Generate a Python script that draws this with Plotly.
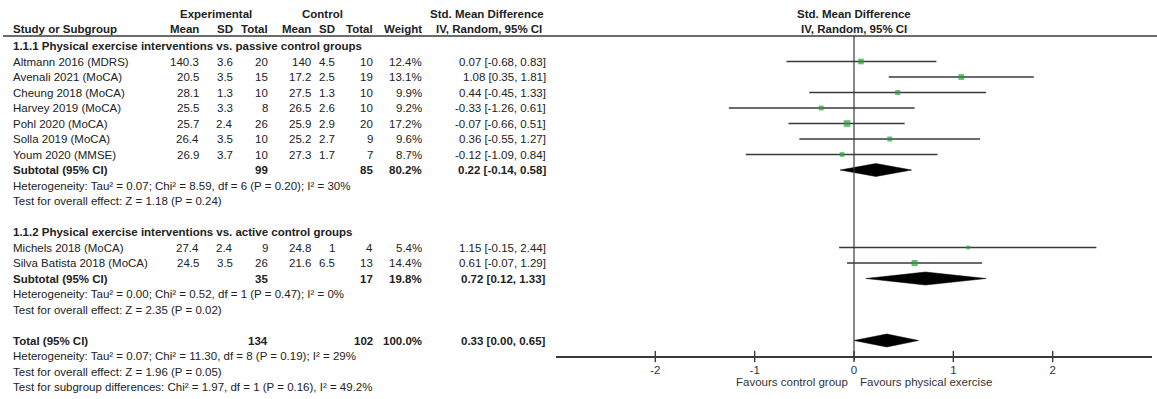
import plotly.graph_objects as go

# ---- study-level data -------------------------------------------------------
study = ["Altmann 2016 (MDRS)", "Avenali 2021 (MoCA)", "Cheung 2018 (MoCA)",
         "Harvey 2019 (MoCA)", "Pohl 2020 (MoCA)", "Solla 2019 (MoCA)",
         "Youm 2020 (MMSE)", "Michels 2018 (MoCA)", "Silva Batista 2018 (MoCA)"]
group = [1, 1, 1, 1, 1, 1, 1, 2, 2]
exp_mean = [140.3, 20.5, 28.1, 25.5, 25.7, 26.4, 26.9, 27.4, 24.5]
exp_sd = [3.6, 3.5, 1.3, 3.3, 2.4, 3.5, 3.7, 2.4, 3.5]
exp_n = [20, 15, 10, 8, 26, 10, 10, 9, 26]
ctl_mean = [140, 17.2, 27.5, 26.5, 25.9, 25.2, 27.3, 24.8, 21.6]
ctl_sd = [4.5, 2.5, 1.3, 2.6, 2.9, 2.7, 1.7, 1, 6.5]
ctl_n = [10, 19, 10, 10, 20, 9, 7, 4, 13]
weight = [12.4, 13.1, 9.9, 9.2, 17.2, 9.6, 8.7, 5.4, 14.4]
smd = [0.07, 1.08, 0.44, -0.33, -0.07, 0.36, -0.12, 1.15, 0.61]
ci_lo = [-0.68, 0.35, -0.45, -1.26, -0.66, -0.55, -1.09, -0.15, -0.07]
ci_hi = [0.83, 1.81, 1.33, 0.61, 0.51, 1.27, 0.84, 2.44, 1.29]

# ---- subgroup pooled results --------------------------------------------------
group_titles = ["1.1.1 Physical exercise interventions vs. passive control groups",
                "1.1.2 Physical exercise interventions vs. active control groups"]
sub_exp_n = [99, 35]
sub_ctl_n = [85, 17]
sub_weight = [80.2, 19.8]
sub_smd = [0.22, 0.72]
sub_lo = [-0.14, 0.12]
sub_hi = [0.58, 1.33]
sub_het = ["Heterogeneity: Tau\u00b2 = 0.07; Chi\u00b2 = 8.59, df = 6 (P = 0.20); I\u00b2 = 30%",
           "Heterogeneity: Tau\u00b2 = 0.00; Chi\u00b2 = 0.52, df = 1 (P = 0.47); I\u00b2 = 0%"]
sub_test = ["Test for overall effect: Z = 1.18 (P = 0.24)",
            "Test for overall effect: Z = 2.35 (P = 0.02)"]

# ---- overall pooled result ----------------------------------------------------
tot_exp_n, tot_ctl_n, tot_weight = 134, 102, 100.0
tot_smd, tot_lo, tot_hi = 0.33, 0.00, 0.65
tot_notes = ["Heterogeneity: Tau\u00b2 = 0.07; Chi\u00b2 = 11.30, df = 8 (P = 0.19); I\u00b2 = 29%",
             "Test for overall effect: Z = 1.96 (P = 0.05)",
             "Test for subgroup differences: Chi\u00b2 = 1.97, df = 1 (P = 0.16), I\u00b2 = 49.2%"]

axis_ticks = [-2, -1, 0, 1, 2]
favours_left = "Favours control group"
favours_right = "Favours physical exercise"

# ---- layout constants (pixels) -------------------------------------------------
W, H = 1157, 399
ROW0, STEP = 61.5, 15.5          # first study row, row pitch
HEAD1_Y, HEAD2_Y, RULE_Y = 14, 29, 36
AXIS_Y = 357
FONT = "Liberation Sans, Arial, sans-serif"
FS = 11.5
TXT = "#222222"
LINE = "#3a3a3a"
GREEN = "#25a03a"
COL_LEFT = 13
COL_R = dict(em=199, esd=233, en=268, cm=311, csd=335, cn=373, w=422, ci=546)
DIAMOND_H = 6.5


def row_y(i):
    return ROW0 + STEP * i


def fmt_ci(e, lo, hi):
    return f"{e:.2f} [{lo:.2f}, {hi:.2f}]"


annotations = []


def put(text, x, y, anchor="right", bold=False, color=TXT):
    annotations.append(dict(
        text=f"<b>{text}</b>" if bold else text,
        x=x / W, xref="paper", y=y, yref="y",
        xanchor=anchor, yanchor="middle", showarrow=False,
        borderpad=0, borderwidth=0,
        font=dict(family=FONT, size=FS, color=color)))


# column headers
put("Experimental", 216, HEAD1_Y, "center", True)
put("Control", 322, HEAD1_Y, "center", True)
put("Std. Mean Difference", 487, HEAD1_Y, "center", True)
put("Study or Subgroup", COL_LEFT, HEAD2_Y, "left", True)
for key, lab in [("em", "Mean"), ("esd", "SD"), ("en", "Total"), ("cm", "Mean"),
                 ("csd", "SD"), ("cn", "Total"), ("w", "Weight")]:
    put(lab, COL_R[key], HEAD2_Y, "right", True)
put("IV, Random, 95% CI", 489, HEAD2_Y, "center", True)

fig = go.Figure()

# assign rows: group 1 starts at row 0, group 2 after a blank line
study_rows = []
group_start = {1: 0, 2: 12}
idx_in_group = {1: 0, 2: 0}
for g in group:
    study_rows.append(group_start[g] + idx_in_group[g])
    idx_in_group[g] += 1

# study rows: table cells
for i, r in enumerate(study_rows):
    y = row_y(r)
    put(study[i], COL_LEFT, y, "left")
    put(f"{exp_mean[i]:g}", COL_R["em"], y)
    put(f"{exp_sd[i]:g}", COL_R["esd"], y)
    put(f"{exp_n[i]}", COL_R["en"], y)
    put(f"{ctl_mean[i]:g}", COL_R["cm"], y)
    put(f"{ctl_sd[i]:g}", COL_R["csd"], y)
    put(f"{ctl_n[i]}", COL_R["cn"], y)
    put(f"{weight[i]:.1f}%", COL_R["w"], y)
    put(fmt_ci(smd[i], ci_lo[i], ci_hi[i]), COL_R["ci"], y)

# confidence-interval whiskers
for i, r in enumerate(study_rows):
    fig.add_trace(go.Scatter(
        x=[ci_lo[i], ci_hi[i]], y=[row_y(r), row_y(r)], mode="lines",
        line=dict(color=LINE, width=1.4), hoverinfo="skip", showlegend=False))

# point estimates, square size scaled by weight
fig.add_trace(go.Scatter(
    x=smd, y=[row_y(r) for r in study_rows], mode="markers",
    marker=dict(symbol="square", color=GREEN,
                size=[1.6 * w ** 0.5 for w in weight], line=dict(width=0)),
    hoverinfo="skip", showlegend=False))


def diamond(est, lo, hi, y):
    fig.add_trace(go.Scatter(
        x=[lo, est, hi, est, lo], y=[y, y - DIAMOND_H, y, y + DIAMOND_H, y],
        mode="lines", fill="toself", fillcolor="#000000",
        line=dict(color="#000000", width=0.5), hoverinfo="skip", showlegend=False))


# subgroup blocks
sub_rows = [7, 14]
for g in range(2):
    r = sub_rows[g]
    put(group_titles[g], COL_LEFT, row_y(group_start[g + 1] - 1), "left", True)
    put("Subtotal (95% CI)", COL_LEFT, row_y(r), "left", True)
    put(f"{sub_exp_n[g]}", COL_R["en"], row_y(r), bold=True)
    put(f"{sub_ctl_n[g]}", COL_R["cn"], row_y(r), bold=True)
    put(f"{sub_weight[g]:.1f}%", COL_R["w"], row_y(r), bold=True)
    put(fmt_ci(sub_smd[g], sub_lo[g], sub_hi[g]), COL_R["ci"], row_y(r), bold=True)
    put(sub_het[g], COL_LEFT, row_y(r + 1), "left")
    put(sub_test[g], COL_LEFT, row_y(r + 2), "left")
    diamond(sub_smd[g], sub_lo[g], sub_hi[g], row_y(r))

# overall block
tr = 18
put("Total (95% CI)", COL_LEFT, row_y(tr), "left", True)
put(f"{tot_exp_n}", COL_R["en"], row_y(tr), bold=True)
put(f"{tot_ctl_n}", COL_R["cn"], row_y(tr), bold=True)
put(f"{tot_weight:.1f}%", COL_R["w"], row_y(tr), bold=True)
put(fmt_ci(tot_smd, tot_lo, tot_hi), COL_R["ci"], row_y(tr), bold=True)
for k, note in enumerate(tot_notes):
    put(note, COL_LEFT, row_y(tr + 1 + k), "left")
diamond(tot_smd, tot_lo, tot_hi, row_y(tr))

# tick marks that cross the axis line
fig.add_trace(go.Scatter(
    x=axis_ticks, y=[AXIS_Y - 0.5] * len(axis_ticks), mode="markers",
    marker=dict(symbol="line-ns", size=8, line=dict(color=LINE, width=1.4)),
    hoverinfo="skip", showlegend=False, cliponaxis=False))

# forest-plot headers and favours labels
for txt, y in [("Std. Mean Difference", HEAD1_Y), ("IV, Random, 95% CI", HEAD2_Y)]:
    annotations.append(dict(text=f"<b>{txt}</b>", x=0, xref="x", y=y, yref="y",
                            showarrow=False, xanchor="center", yanchor="middle",
                            font=dict(family=FONT, size=FS, color=TXT)))
annotations.append(dict(text=favours_left, x=0, xref="x", xshift=-4, y=382, yref="y",
                        showarrow=False, xanchor="right", yanchor="middle",
                        font=dict(family=FONT, size=FS, color="#333333")))
annotations.append(dict(text=favours_right, x=0, xref="x", xshift=4, y=382, yref="y",
                        showarrow=False, xanchor="left", yanchor="middle",
                        font=dict(family=FONT, size=FS, color="#333333")))

shapes = [
    # rule under the column headers
    dict(type="line", xref="paper", x0=3 / W, x1=1, yref="y", y0=RULE_Y, y1=RULE_Y,
         line=dict(color=LINE, width=1.6)),
    # line of no effect
    dict(type="line", xref="x", x0=0, x1=0, yref="y", y0=RULE_Y, y1=AXIS_Y,
         line=dict(color=LINE, width=1.2)),
]

fig.update_layout(
    width=W, height=H, margin=dict(l=0, r=0, t=0, b=0),
    paper_bgcolor="white", plot_bgcolor="white",
    showlegend=False,
    xaxis=dict(domain=[556 / W, 1152 / W], range=[-3, 3], anchor="free",
               position=(H - AXIS_Y) / H, tickvals=axis_ticks,
               ticktext=[str(t) for t in axis_ticks],
               showline=True, linecolor=LINE, linewidth=1.6,
               ticks="outside", ticklen=2, tickwidth=1.4, tickcolor=LINE,
               showgrid=False, zeroline=False,
               tickfont=dict(family=FONT, size=FS, color="#333333")),
    yaxis=dict(domain=[0, 1], range=[H, 0], visible=False, fixedrange=True),
    annotations=annotations,
    shapes=shapes,
)

fig.write_html("out.html")
